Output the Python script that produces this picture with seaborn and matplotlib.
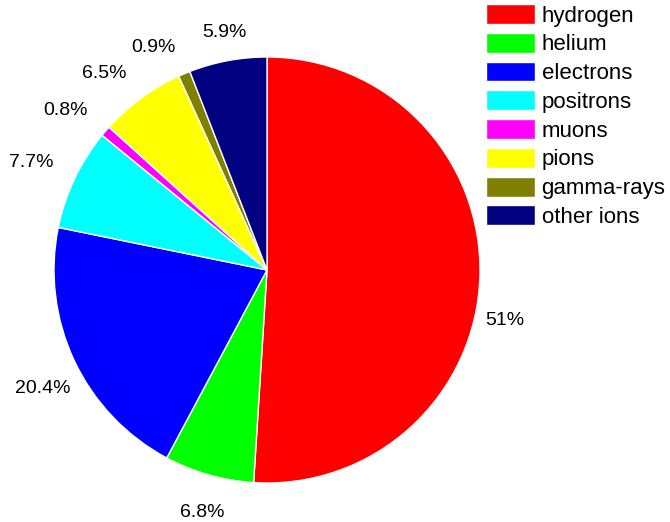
import matplotlib
matplotlib.use("Agg")
import matplotlib.pyplot as plt
import seaborn as sns

categories = ["hydrogen", "helium", "electrons", "positrons", "muons",
              "pions", "gamma-rays", "other ions"]
shares = [51, 6.8, 20.4, 7.7, 0.8, 6.5, 0.9, 5.9]
share_labels = ["51%", "6.8%", "20.4%", "7.7%", "0.8%", "6.5%", "0.9%", "5.9%"]
colors = ["#ff0000", "#00ff00", "#0000ff", "#00ffff", "#ff00ff",
          "#ffff00", "#808000", "#000080"]

# label anchor points (centre x, baseline y) in pie units, nudged apart
# around the crowded small slices
label_anchor = [(1.117, -0.258), (-0.303, -1.160), (-1.052, -0.577),
                (-1.106, 0.484), (-0.946, 0.728), (-0.762, 0.900),
                (-0.535, 1.025), (-0.202, 1.095)]

sns.set_theme(style="white")
plt.rcParams["font.family"] = ["Liberation Sans", "DejaVu Sans"]
plt.rcParams["text.color"] = "black"

fig = plt.figure(figsize=(6.70, 5.22), dpi=100)
W, H = 670, 522
cx, cy, r = 267, 270, 213
ax = fig.add_axes([(cx - r) / W, (H - cy - r) / H, 2 * r / W, 2 * r / H])

wedges, texts = ax.pie(
    shares, colors=colors, startangle=90, counterclock=False,
    labels=share_labels, labeldistance=1.17,
    wedgeprops=dict(edgecolor="white", linewidth=1.0),
    textprops=dict(fontsize=14, color="black"),
)
for t, pos in zip(texts, label_anchor):
    t.set_horizontalalignment("center")
    t.set_verticalalignment("baseline")
    t.set_position(pos)

ax.set_xlim(-1, 1)
ax.set_ylim(-1, 1)
ax.set_aspect("equal")
ax.axis("off")

leg = fig.legend(wedges, categories, loc="upper left",
                 bbox_to_anchor=(486 / W, 1 - 4 / H), frameon=False,
                 fontsize=16, handlelength=2.2, handleheight=1.0,
                 handletextpad=0.3, labelspacing=0.28, borderpad=0,
                 borderaxespad=0)
for t in leg.get_texts():
    t.set_color("black")

fig.savefig("out.png", dpi=100, facecolor="white")
